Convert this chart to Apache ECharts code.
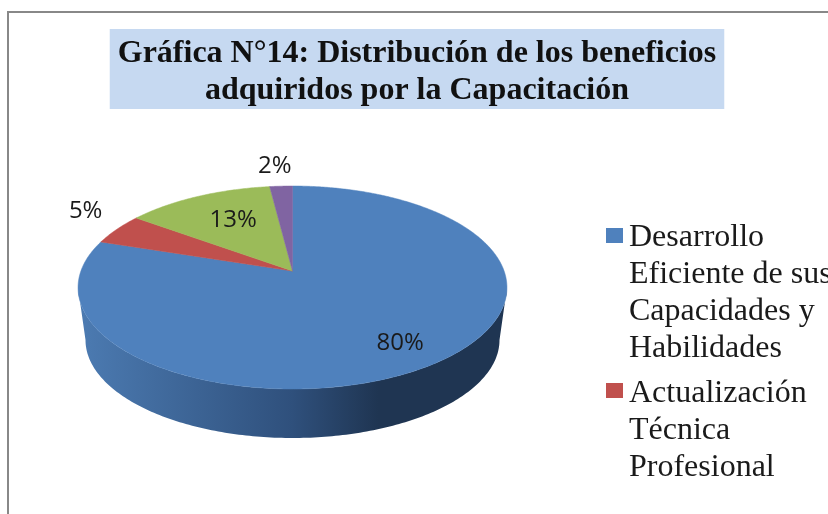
<!DOCTYPE html>
<html>
<head>
<meta charset="utf-8">
<style>
  html, body { margin: 0; padding: 0; background: #fff; overflow: hidden; }
  #chart { width: 828px; height: 514px; }
</style>
<script src="https://cdn.jsdelivr.net/npm/echarts@6/dist/echarts.min.js"></script>
</head>
<body>
<div id="chart"></div>
<script>
  // datos, en sentido horario desde arriba
  const sliceValues = [80, 5, 13, 2]
  const sliceColors = ['#4f81bd', '#c0504d', '#9bbb59', '#8064a2']
  const legendNames = ['Desarrollo\nEficiente de sus\nCapacidades y\nHabilidades', 'Actualización\nTécnica\nProfesional']
  const titleText = 'Gráfica N°14: Distribución de los beneficios\nadquiridos por la Capacitación'

  // radio de cada etiqueta respecto al borde, y ajuste fino en px
  const labelRadius = [0.79, 1.2, 0.63, 1.25]
  const labelNudge = [[-2, 1.5], [1, -10], [3, -2], [-4, -2]]

  // pastel en perspectiva: el circulo unidad se proyecta sobre la elipse
  const apexX = 292.5, apexY = 271
  const scaleX = 211.6, scaleY = 98.8, persp = -0.1626

  function project(theta, r) {
    const u = Math.sin(theta) * r
    const v = -Math.cos(theta) * r
    const w = 1 + persp * v
    return [apexX + scaleX * u / w, apexY + scaleY * v / w]
  }

  const total = sliceValues.reduce((a, b) => a + b, 0)

  function sliceAngles(index) {
    let before = 0
    for (let i = 0; i < index; i++) before += sliceValues[i]
    const start = before / total * Math.PI * 2
    return [start, start + sliceValues[index] / total * Math.PI * 2]
  }

  function renderSlice(params, api) {
    const i = params.dataIndex
    const [start, end] = sliceAngles(i)
    const points = [project(0, 0)]
    const steps = Math.max(4, Math.ceil((end - start) / 0.01))
    for (let s = 0; s <= steps; s++) {
      points.push(project(start + (end - start) * s / steps, 1))
    }
    const mid = project((start + end) / 2, labelRadius[i])
    return {
      type: 'group',
      children: [{
        type: 'polygon',
        shape: { points: points },
        style: { fill: sliceColors[i], stroke: sliceColors[i], lineWidth: 0.5 }
      }, {
        type: 'text',
        x: mid[0] + labelNudge[i][0],
        y: mid[1] + labelNudge[i][1],
        style: {
          text: Math.round(api.value(0)) + '%',
          font: '24px "Open Sans", sans-serif',
          fill: '#1a1a1a',
          align: 'center',
          verticalAlign: 'middle'
        }
      }]
    }
  }

  // canto del pastel, la elipse inferior es un poco mas estrecha
  function renderSide() {
    const points = []
    const cx = 292.5, cyTop = 287.5, rxTop = 214.5, ryTop = 101.5
    const cyLow = 340, rxLow = 207, ryLow = 98
    for (let a = 0; a <= 180; a += 1) {
      const t = a / 180 * Math.PI
      points.push([cx + rxLow * Math.cos(t), cyLow + ryLow * Math.sin(t)])
    }
    for (let a = 180; a >= 0; a -= 1) {
      const t = a / 180 * Math.PI
      points.push([cx + rxTop * Math.cos(t), cyTop + ryTop * Math.sin(t)])
    }
    return {
      type: 'polygon',
      shape: { points: points },
      style: {
        fill: new echarts.graphic.LinearGradient(0, 0, 1, 0, [
          { offset: 0, color: '#4c7bb2' },
          { offset: 0.5, color: '#2f507c' },
          { offset: 0.7, color: '#1f3552' },
          { offset: 1, color: '#1f3552' }
        ])
      }
    }
  }

  function legendGraphics() {
    const items = [
      { swatchY: 228, textY: 219, color: sliceColors[0], text: legendNames[0] },
      { swatchY: 383, textY: 375, color: sliceColors[1], text: legendNames[1] }
    ]
    const out = []
    items.forEach((it) => {
      out.push({
        type: 'rect',
        shape: { x: 606, y: it.swatchY, width: 17, height: 15 },
        style: { fill: it.color }
      })
      out.push({
        type: 'text',
        x: 629,
        y: it.textY,
        style: {
          text: it.text,
          font: '32px "Liberation Serif", serif',
          lineHeight: 37,
          fill: '#1a1a1a'
        }
      })
    })
    return out
  }

  const chart = echarts.init(document.getElementById('chart'), null, { renderer: 'canvas' })
  chart.setOption({
    animation: false,
    backgroundColor: '#ffffff',
    title: {
      text: titleText,
      left: 409,
      top: 29,
      textAlign: 'center',
      backgroundColor: '#c6d9f1',
      padding: [6, 8, 0, 8],
      textStyle: {
        fontFamily: '"Liberation Serif", serif',
        fontWeight: 'bold',
        fontSize: 32,
        lineHeight: 37,
        color: '#111',
        align: 'center'
      }
    },
    graphic: [{
      type: 'polyline',
      shape: { points: [[8, 514], [8, 12], [828, 12]] },
      style: { stroke: '#888888', lineWidth: 2, fill: null }
    }].concat(legendGraphics()),
    series: [{
      type: 'custom',
      name: 'canto',
      coordinateSystem: 'none',
      silent: true,
      z: 1,
      data: [sliceValues[0]],
      renderItem: renderSide
    }, {
      type: 'custom',
      name: 'beneficios',
      coordinateSystem: 'none',
      silent: true,
      z: 2,
      data: sliceValues,
      renderItem: renderSlice
    }]
  })
</script>
</body>
</html>
